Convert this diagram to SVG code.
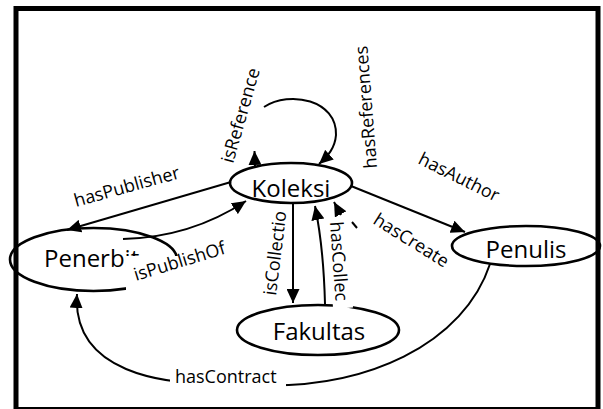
<svg xmlns="http://www.w3.org/2000/svg" width="603" height="409" viewBox="0 0 603 409">
<style>
.node ellipse{fill:none;stroke:#000;stroke-width:2.6}
.node text{font-family:"Open Sans","DejaVu Sans",sans-serif;font-size:24px;fill:#000;text-anchor:middle}
.conn path,.conn line{fill:none;stroke:#000;stroke-width:2}
.lbl{font-family:"Open Sans","DejaVu Sans",sans-serif;font-size:18px;fill:#000}
.bg{fill:#fff;stroke:none}
</style>
<defs>
<marker id="ah" viewBox="0 0 14 13" refX="14" refY="6.5" markerWidth="14" markerHeight="13" markerUnits="userSpaceOnUse" orient="auto">
<path d="M0,0 L14,6.5 L0,13 z" fill="#000"/>
</marker>
</defs>
<rect width="603" height="409" fill="#fff"/>
<rect x="16" y="8.5" width="582" height="401" fill="none" stroke="#000" stroke-width="5"/>

<g id="node-koleksi" class="node">
<ellipse cx="291" cy="183" rx="61" ry="20"/>
<text x="291" y="197">Koleksi</text>
</g>
<g id="node-penerbit" class="node">
<ellipse cx="93.5" cy="259.5" rx="83.5" ry="31.5"/>
<text x="44" y="267" style="text-anchor:start">Penerbit</text>
</g>
<g id="node-penulis" class="node">
<ellipse cx="526" cy="246" rx="74" ry="20"/>
<text x="526" y="258">Penulis</text>
</g>
<g id="node-fakultas" class="node">
<ellipse cx="318" cy="330" rx="81" ry="25"/>
<text x="319" y="340">Fakultas</text>
</g>

<g id="connectors" class="conn">
<path d="M264,107 C290,90 337,100 336,135 C335,148 328,156 319,164" marker-end="url(#ah)"/>
<path d="M255,166 L254.5,151" marker-end="url(#ah)"/>
<text class="lbl" transform="translate(233,164) rotate(-74)">isReference</text>
<text class="lbl" transform="translate(377,168) rotate(-94.5)">hasReferences</text>

<path d="M231,182 L67,230" marker-end="url(#ah)"/>
<text class="lbl" transform="translate(76,207) rotate(-15.5)">hasPublisher</text>

<path d="M123,239 C165,238 205,228 246,201" marker-end="url(#ah)"/>
<rect class="bg" x="126" y="256" width="56" height="40"/>
<text class="lbl" transform="translate(136,281) rotate(-17)">isPublishOf</text>

<path d="M351,186 L465,232" marker-end="url(#ah)"/>
<text class="lbl" transform="translate(417,163) rotate(26.5)">hasAuthor</text>

<line x1="357" y1="228" x2="352" y2="222"/>
<path d="M341,215 L334,202" marker-end="url(#ah)"/>
<text class="lbl" transform="translate(372,223) rotate(32)">hasCreate</text>

<path d="M293,203 L293,303" marker-end="url(#ah)"/>
<text class="lbl" transform="translate(276,296) rotate(-83)">isCollectio</text>

<path d="M325,304 C324,265 321,235 315,206" marker-end="url(#ah)"/>
<rect class="bg" transform="translate(330,222) rotate(86)" x="-3" y="-17" width="90" height="20"/>
<text class="lbl" transform="translate(330,222) rotate(86)">hasCollec</text>

<path d="M490,264 C465,340 370,395 235,384 C160,386 72,372 77,294" marker-end="url(#ah)"/>
<rect class="bg" x="170" y="362" width="116" height="28"/>
<text class="lbl" x="175" y="383">hasContract</text>
</g>
</svg>
